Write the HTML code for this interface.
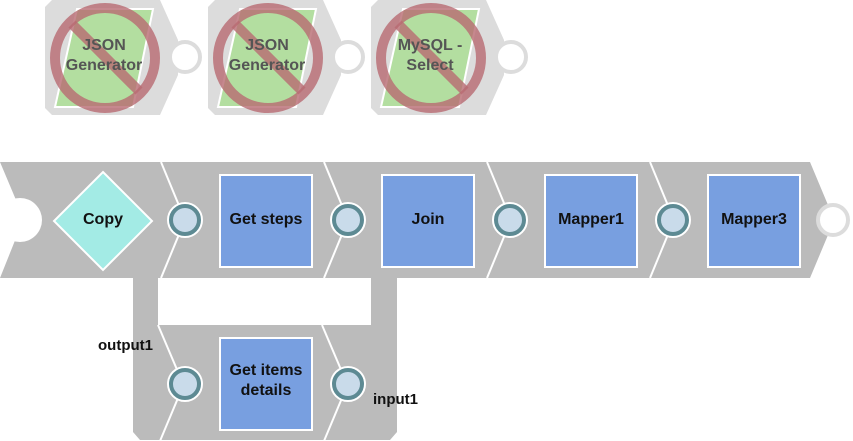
<!DOCTYPE html>
<html><head><style>
html,body{margin:0;padding:0;background:#fff;}
svg{display:block;}
text{font-family:"Liberation Sans","DejaVu Sans",sans-serif;font-weight:bold;}
</style></head><body>
<svg width="853" height="441" viewBox="0 0 853 441" xmlns="http://www.w3.org/2000/svg">
<g id="dis">
<polygon points="52,0 160,0 178,40 178,75 160,115 52,115 45,108 45,7" fill="#dcdcdc"/>
<circle cx="185" cy="57" r="15" fill="#fff" stroke="#dcdcdc" stroke-width="4"/>
<polygon points="77,9 153,9 133,107 55,107" fill="#b3dea0" stroke="#fff" stroke-width="2"/>
<circle cx="105" cy="58" r="50" fill="none" stroke="#b86a72" stroke-opacity="0.8" stroke-width="10"/>
<line x1="72" y1="24" x2="139" y2="91" stroke="#b86a72" stroke-opacity="0.8" stroke-width="10"/>
</g>
<use href="#dis" x="163"/>
<use href="#dis" x="326"/>
<g font-size="16" fill="#555" text-anchor="middle">
<text x="104" y="50">JSON</text><text x="104" y="70">Generator</text>
<text x="267" y="50">JSON</text><text x="267" y="70">Generator</text>
<text x="430" y="50">MySQL -</text><text x="430" y="70">Select</text>
</g>
<polygon points="0,162 810,162 828,205 828,235 810,278 0,278 16,238 16,200" fill="#bbbbbb"/>
<circle cx="20" cy="220" r="22" fill="#fff"/>
<circle cx="833" cy="220" r="15" fill="#fff" stroke="#dcdcdc" stroke-width="4"/>
<polygon points="133,278 158,278 158,325 371,325 371,278 397,278 397,432 390,440 140,440 133,432" fill="#bbbbbb"/>
<g stroke="#fff" stroke-width="2" fill="none">
<polyline points="161,162 180,208"/><polyline points="180,232 161,278"/>
<polyline points="324,162 343,208"/><polyline points="343,232 324,278"/>
<polyline points="487,162 506,208"/><polyline points="506,232 487,278"/>
<polyline points="650,162 669,208"/><polyline points="669,232 650,278"/>
<polyline points="158,325 178,372"/><polyline points="178,398 160,441"/>
<polyline points="322,325 342,372"/><polyline points="342,398 324,441"/>
</g>
<g fill="#c9dbea" stroke="#5d8a93" stroke-width="4">
<circle cx="185" cy="220" r="16" stroke="#fff" stroke-width="4" fill="#fff"/>
<circle cx="348" cy="220" r="16" stroke="#fff" stroke-width="4" fill="#fff"/>
<circle cx="510" cy="220" r="16" stroke="#fff" stroke-width="4" fill="#fff"/>
<circle cx="673" cy="220" r="16" stroke="#fff" stroke-width="4" fill="#fff"/>
<circle cx="185" cy="384" r="16" stroke="#fff" stroke-width="4" fill="#fff"/>
<circle cx="348" cy="384" r="16" stroke="#fff" stroke-width="4" fill="#fff"/>
<circle cx="185" cy="220" r="14"/><circle cx="348" cy="220" r="14"/>
<circle cx="510" cy="220" r="14"/><circle cx="673" cy="220" r="14"/>
<circle cx="185" cy="384" r="14"/><circle cx="348" cy="384" r="14"/>
</g>
<polygon points="103,172 152,221 103,270 54,221" fill="#a3ebe5" stroke="#fff" stroke-width="2"/>
<g fill="#789fe0" stroke="#fff" stroke-width="2">
<rect x="220" y="175" width="92" height="92"/>
<rect x="382" y="175" width="92" height="92"/>
<rect x="545" y="175" width="92" height="92"/>
<rect x="708" y="175" width="92" height="92"/>
<rect x="220" y="338" width="92" height="92"/>
</g>
<g font-size="16" fill="#111" text-anchor="middle">
<text x="103" y="224">Copy</text>
<text x="266" y="224">Get steps</text>
<text x="428" y="224">Join</text>
<text x="591" y="224">Mapper1</text>
<text x="754" y="224">Mapper3</text>
<text x="266" y="375">Get items</text>
<text x="266" y="395">details</text>
</g>
<g font-size="15" fill="#111">
<text x="98" y="350">output1</text>
<text x="373" y="404">input1</text>
</g>
</svg>
</body></html>
